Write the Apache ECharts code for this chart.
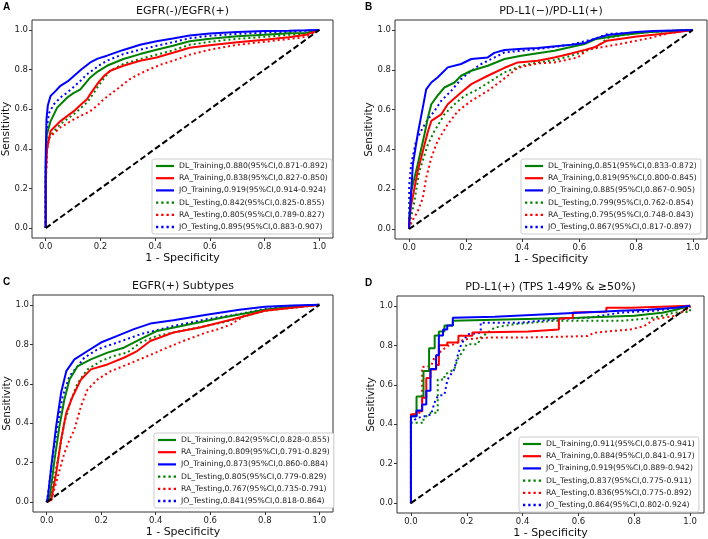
<!DOCTYPE html>
<html>
<head>
<meta charset="utf-8">
<script src="https://cdn.jsdelivr.net/npm/echarts@6/dist/echarts.min.js"></script>
<style>
  html, body { margin: 0; padding: 0; background: #fff; }
  #chart { width: 708px; height: 539px; }
</style>
</head>
<body>
<div id="chart"></div>
<script>
// tick positions shared by all panels
var tickVals = [0, 0.2, 0.4, 0.6, 0.8, 1.0];

// ---- A: EGFR(-)/EGFR(+) ----
var namesA = ['DL_Training,0.880(95%CI,0.871-0.892)', 'RA_Training,0.838(95%CI,0.827-0.850)', 'JO_Training,0.919(95%CI,0.914-0.924)',
  'DL_Testing,0.842(95%CI,0.825-0.855)', 'RA_Testing,0.805(95%CI,0.789-0.827)', 'JO_Testing,0.895(95%CI,0.883-0.907)'];
var aDLTrain = [[0,0],[0,0.3],[0.004,0.47],[0.018,0.54],[0.042,0.608],[0.079,0.659],[0.1,0.68],[0.127,0.70],[0.145,0.73],[0.163,0.76],[0.19,0.79],[0.224,0.819],[0.284,0.853],[0.345,0.878],[0.405,0.9],[0.465,0.92],[0.526,0.943],[0.6,0.955],[0.7,0.968],[0.8,0.976],[0.889,0.983],[0.95,0.985],[1,1]];
var aRATrain = [[0,0],[0,0.25],[0.005,0.40],[0.018,0.49],[0.054,0.54],[0.103,0.59],[0.13,0.625],[0.151,0.65],[0.163,0.676],[0.175,0.70],[0.193,0.735],[0.215,0.77],[0.236,0.794],[0.284,0.819],[0.345,0.844],[0.405,0.861],[0.465,0.885],[0.526,0.91],[0.6,0.922],[0.7,0.938],[0.8,0.95],[0.889,0.963],[0.95,0.975],[1,1]];
var aJOTrain = [[0,0],[0,0.35],[0.003,0.55],[0.008,0.62],[0.018,0.667],[0.035,0.69],[0.054,0.718],[0.08,0.74],[0.103,0.768],[0.13,0.8],[0.163,0.836],[0.19,0.855],[0.224,0.87],[0.284,0.899],[0.345,0.925],[0.405,0.943],[0.465,0.957],[0.526,0.972],[0.6,0.982],[0.7,0.99],[0.8,0.994],[0.889,0.996],[0.95,0.998],[1,1]];
var aDLTest = [[0,0],[0,0.25],[0.005,0.42],[0.018,0.47],[0.054,0.525],[0.103,0.575],[0.151,0.633],[0.175,0.68],[0.193,0.718],[0.215,0.76],[0.236,0.794],[0.284,0.828],[0.345,0.853],[0.405,0.875],[0.465,0.897],[0.526,0.925],[0.6,0.94],[0.7,0.955],[0.8,0.965],[0.889,0.975],[0.95,0.98],[1,1]];
var aRATest = [[0,0],[0,0.2],[0.005,0.39],[0.012,0.456],[0.054,0.508],[0.103,0.549],[0.163,0.59],[0.19,0.62],[0.212,0.65],[0.26,0.70],[0.308,0.752],[0.345,0.78],[0.381,0.802],[0.42,0.825],[0.465,0.844],[0.526,0.875],[0.6,0.9],[0.7,0.925],[0.8,0.94],[0.889,0.954],[0.95,0.965],[1,1]];
var aJOTest = [[0,0],[0,0.3],[0.004,0.5],[0.012,0.58],[0.03,0.625],[0.055,0.66],[0.079,0.684],[0.1,0.71],[0.127,0.743],[0.15,0.775],[0.175,0.80],[0.2,0.825],[0.224,0.845],[0.284,0.878],[0.345,0.9],[0.405,0.92],[0.465,0.938],[0.526,0.958],[0.6,0.97],[0.7,0.98],[0.8,0.986],[0.889,0.99],[1,1]];

// ---- B: PD-L1(−)/PD-L1(+) ----
var namesB = ['DL_Training,0.851(95%CI,0.833-0.872)', 'RA_Training,0.819(95%CI,0.800-0.845)', 'JO_Training,0.885(95%CI,0.867-0.905)',
  'DL_Testing,0.799(95%CI,0.762-0.854)', 'RA_Testing,0.795(95%CI,0.748-0.843)', 'JO_Testing,0.867(95%CI,0.817-0.897)'];
var bDLTrain = [[0,0],[0,0.05],[0.007,0.19],[0.03,0.324],[0.054,0.476],[0.066,0.56],[0.078,0.627],[0.1,0.67],[0.124,0.711],[0.16,0.736],[0.183,0.77],[0.219,0.795],[0.277,0.82],[0.336,0.854],[0.395,0.87],[0.512,0.896],[0.618,0.929],[0.66,0.955],[0.75,0.975],[0.85,0.99],[1,1]];
var bRATrain = [[0,0],[0,0.04],[0.007,0.12],[0.03,0.29],[0.048,0.39],[0.066,0.49],[0.078,0.543],[0.113,0.576],[0.136,0.627],[0.183,0.686],[0.219,0.728],[0.277,0.77],[0.336,0.81],[0.383,0.837],[0.453,0.845],[0.512,0.862],[0.571,0.882],[0.62,0.9],[0.653,0.913],[0.697,0.946],[0.803,0.967],[0.92,0.985],[1,1]];
var bJOTrain = [[0,0],[0,0.02],[0.013,0.324],[0.03,0.476],[0.048,0.61],[0.06,0.702],[0.078,0.736],[0.1,0.761],[0.136,0.812],[0.183,0.829],[0.219,0.854],[0.277,0.862],[0.3,0.885],[0.336,0.899],[0.4,0.905],[0.453,0.909],[0.571,0.926],[0.62,0.935],[0.653,0.955],[0.7,0.975],[0.8,0.99],[0.86,0.995],[1,1]];
var bDLTest = [[0,0],[0.005,0.05],[0.018,0.137],[0.036,0.29],[0.066,0.425],[0.089,0.492],[0.124,0.576],[0.16,0.627],[0.195,0.669],[0.242,0.702],[0.289,0.744],[0.336,0.787],[0.395,0.82],[0.453,0.837],[0.512,0.849],[0.571,0.87],[0.661,0.913],[0.7,0.96],[0.8,0.985],[0.9,0.995],[1,1]];
var bRATest = [[0,0],[0.01,0.04],[0.03,0.088],[0.048,0.155],[0.06,0.257],[0.078,0.358],[0.1,0.442],[0.136,0.526],[0.172,0.593],[0.219,0.644],[0.277,0.694],[0.324,0.744],[0.383,0.81],[0.453,0.832],[0.512,0.837],[0.595,0.862],[0.627,0.9],[0.745,0.93],[0.85,0.96],[0.92,0.985],[1,1]];
var bJOTest = [[0,0],[0,0.22],[0.007,0.324],[0.024,0.442],[0.048,0.509],[0.071,0.56],[0.089,0.593],[0.113,0.644],[0.148,0.694],[0.183,0.753],[0.219,0.795],[0.254,0.829],[0.301,0.862],[0.336,0.887],[0.453,0.904],[0.571,0.926],[0.653,0.955],[0.7,0.98],[0.85,0.99],[1,1]];

// ---- C: EGFR(+) Subtypes ----
var namesC = ['DL_Training,0.842(95%CI,0.828-0.855)', 'RA_Training,0.809(95%CI,0.791-0.829)', 'JO_Training,0.873(95%CI,0.860-0.884)',
  'DL_Testing,0.805(95%CI,0.779-0.829)', 'RA_Testing,0.767(95%CI,0.735-0.791)', 'JO_Testing,0.841(95%CI,0.818-0.864)'];
var cDLTrain = [[0,0],[0.012,0.03],[0.029,0.215],[0.047,0.385],[0.065,0.52],[0.084,0.622],[0.114,0.69],[0.162,0.724],[0.223,0.758],[0.283,0.783],[0.344,0.826],[0.405,0.868],[0.525,0.902],[0.646,0.936],[0.8,0.975],[0.9,0.99],[1,1]];
var cRATrain = [[0,0],[0.017,0.012],[0.035,0.147],[0.053,0.317],[0.072,0.453],[0.096,0.537],[0.126,0.622],[0.162,0.673],[0.223,0.698],[0.283,0.732],[0.332,0.766],[0.38,0.817],[0.465,0.86],[0.562,0.885],[0.683,0.927],[0.8,0.97],[0.9,0.985],[1,1]];
var cJOTrain = [[0,0],[0.005,0.03],[0.017,0.18],[0.035,0.385],[0.053,0.554],[0.072,0.664],[0.102,0.724],[0.15,0.766],[0.199,0.809],[0.259,0.843],[0.32,0.877],[0.38,0.905],[0.465,0.922],[0.586,0.95],[0.707,0.975],[0.8,0.99],[0.9,0.997],[1,1]];
var cDLTest = [[0,0],[0.017,0.05],[0.041,0.215],[0.065,0.402],[0.09,0.52],[0.114,0.605],[0.15,0.673],[0.199,0.715],[0.247,0.741],[0.296,0.758],[0.344,0.809],[0.405,0.843],[0.525,0.877],[0.646,0.911],[0.8,0.97],[0.9,0.985],[1,1]];
var cRATest = [[0,0],[0.017,0.01],[0.041,0.13],[0.065,0.249],[0.084,0.317],[0.102,0.368],[0.126,0.486],[0.15,0.571],[0.187,0.622],[0.235,0.664],[0.296,0.698],[0.356,0.732],[0.428,0.775],[0.501,0.817],[0.586,0.86],[0.627,0.876],[0.675,0.9],[0.724,0.944],[0.797,0.975],[0.9,0.985],[1,1]];
var cJOTest = [[0,0],[0.005,0.04],[0.022,0.23],[0.041,0.4],[0.059,0.537],[0.084,0.639],[0.114,0.69],[0.138,0.732],[0.187,0.775],[0.259,0.809],[0.344,0.851],[0.465,0.893],[0.586,0.927],[0.707,0.953],[0.8,0.98],[0.9,0.99],[1,1]];

// ---- D: PD-L1(+) (TPS 1-49% & ≥50%) ----
var namesD = ['DL_Training,0.911(95%CI,0.875-0.941)', 'RA_Training,0.884(95%CI,0.841-0.917)', 'JO_Training,0.919(95%CI,0.889-0.942)',
  'DL_Testing,0.837(95%CI,0.775-0.911)', 'RA_Testing,0.836(95%CI,0.775-0.892)', 'JO_Testing,0.864(95%CI,0.802-0.924)'];
var dDLTrain = [[0,0],[0,0.44],[0.02,0.44],[0.02,0.54],[0.045,0.54],[0.045,0.67],[0.065,0.67],[0.065,0.785],[0.085,0.785],[0.085,0.85],[0.1,0.85],[0.1,0.87],[0.12,0.87],[0.12,0.9],[0.15,0.9],[0.15,0.925],[0.3,0.93],[0.45,0.935],[0.6,0.94],[0.8,0.95],[0.9,0.965],[0.95,0.98],[1,1]];
var dRATrain = [[0,0],[0,0.45],[0.02,0.45],[0.02,0.466],[0.04,0.466],[0.04,0.534],[0.055,0.534],[0.055,0.634],[0.07,0.634],[0.07,0.678],[0.09,0.678],[0.09,0.7],[0.1,0.7],[0.1,0.8],[0.13,0.8],[0.13,0.814],[0.17,0.814],[0.17,0.848],[0.22,0.848],[0.22,0.865],[0.42,0.87],[0.42,0.88],[0.53,0.88],[0.53,0.935],[0.58,0.94],[0.58,0.966],[0.7,0.97],[0.7,0.99],[0.79,0.99],[0.79,1],[1,1]];
var dJOTrain = [[0,0],[0,0.44],[0.02,0.44],[0.02,0.47],[0.04,0.47],[0.04,0.5],[0.055,0.5],[0.055,0.57],[0.07,0.57],[0.07,0.68],[0.09,0.68],[0.09,0.75],[0.1,0.75],[0.1,0.85],[0.115,0.85],[0.115,0.88],[0.13,0.88],[0.13,0.9],[0.15,0.9],[0.15,0.94],[0.3,0.945],[0.45,0.955],[0.6,0.965],[0.75,0.975],[0.85,0.98],[0.95,0.99],[1,1]];
var dDLTest = [[0,0],[0,0.407],[0.045,0.407],[0.045,0.43],[0.072,0.458],[0.096,0.458],[0.096,0.627],[0.12,0.627],[0.12,0.65],[0.155,0.678],[0.167,0.729],[0.19,0.78],[0.2,0.805],[0.239,0.805],[0.25,0.839],[0.3,0.89],[0.37,0.907],[0.514,0.924],[0.753,0.924],[0.872,0.94],[0.944,0.966],[1,0.97],[1,1]];
var dRATest = [[0,0],[0,0.44],[0.024,0.458],[0.04,0.458],[0.04,0.69],[0.072,0.695],[0.084,0.737],[0.108,0.771],[0.131,0.797],[0.155,0.805],[0.191,0.83],[0.275,0.839],[0.394,0.839],[0.633,0.847],[0.657,0.864],[0.789,0.881],[0.836,0.898],[0.872,0.932],[0.944,0.949],[1,0.99],[1,1]];
var dJOTest = [[0,0],[0,0.41],[0.024,0.432],[0.072,0.449],[0.084,0.508],[0.096,0.542],[0.12,0.55],[0.131,0.627],[0.155,0.678],[0.167,0.746],[0.18,0.805],[0.203,0.856],[0.25,0.864],[0.25,0.915],[0.394,0.915],[0.514,0.932],[0.633,0.94],[0.753,0.966],[0.872,0.975],[1,1]];

var chanceLine = [[0, 0], [1, 1]];

var font = 'DejaVu Sans';
var colors = ['#008000', '#ff0000', '#0000ff', '#008000', '#ff0000', '#0000ff'];
// legend handles: a short bar for solid lines, a row of dots for dotted ones
var solidIcon = 'path://M0,0h18v2.2h-18z';
var dotIcon = 'path://M0,0h2.2v2.2h-2.2zM5,0h2.2v2.2h-2.2zM10,0h2.2v2.2h-2.2zM15,0h2.2v2.2h-2.2z';

// panel layout (pixel boxes)
var panels = [
  { letter: 'A', title: 'EGFR(-)/EGFR(+)', grid: [32, 20, 301, 218], legend: [152, 159], names: namesA,
    curves: [aDLTrain, aRATrain, aJOTrain, aDLTest, aRATest, aJOTest] },
  { letter: 'B', title: 'PD-L1(\u2212)/PD-L1(+)', grid: [395, 20, 312, 219], legend: [521, 159], names: namesB,
    curves: [bDLTrain, bRATrain, bJOTrain, bDLTest, bRATest, bJOTest] },
  { letter: 'C', title: 'EGFR(+) Subtypes', grid: [33, 295, 300, 217], legend: [154, 433], names: namesC,
    curves: [cDLTrain, cRATrain, cJOTrain, cDLTest, cRATest, cJOTest] },
  { letter: 'D', title: 'PD-L1(+) (TPS 1-49% & \u226550%)', grid: [397, 296, 307, 217], legend: [519, 437], names: namesD,
    curves: [dDLTrain, dRATrain, dJOTrain, dDLTest, dRATest, dJOTest] }
];

var grids = [], xAxes = [], yAxes = [], legends = [], series = [], graphics = [];

panels.forEach(function (p, i) {
  var g = p.grid;
  grids.push({ left: g[0], top: g[1], width: g[2], height: g[3], show: true,
    borderColor: '#333', borderWidth: 1, backgroundColor: '#fff' });
  var axisCommon = {
    gridIndex: i, type: 'value', min: -0.05, max: 1.05,
    splitLine: { show: false },
    axisLine: { show: false, onZero: false },
    axisTick: { show: true, length: 3, customValues: tickVals, lineStyle: { color: '#333' } },
    axisLabel: { customValues: tickVals, margin: 4, fontSize: 8.5, color: '#222', fontFamily: font,
      formatter: function (v) { return v.toFixed(1); } }
  };
  xAxes.push(Object.assign({ position: 'bottom' }, axisCommon));
  yAxes.push(Object.assign({ position: 'left' }, axisCommon));

  legends.push({
    data: p.names.map(function (n, k) { return { name: n, icon: k < 3 ? solidIcon : dotIcon }; }),
    orient: 'vertical', left: p.legend[0], top: p.legend[1],
    backgroundColor: '#fff', borderColor: '#ccc', borderWidth: 1, borderRadius: 2,
    padding: [3, 4], itemWidth: 18, itemHeight: 8, itemGap: 4.2,
    textStyle: { fontSize: 7.7, fontFamily: font, color: '#222', lineHeight: 8 },
    selectedMode: false
  });

  p.curves.forEach(function (d, k) {
    series.push({
      name: p.names[k], type: 'line', data: d, xAxisIndex: i, yAxisIndex: i,
      symbol: 'none', color: colors[k], z: 2 + (k < 3 ? 1 : 0),
      itemStyle: { color: colors[k] },
      lineStyle: { color: colors[k], width: 2, type: k < 3 ? 'solid' : [2, 3] }
    });
  });
  series.push({
    name: 'chance' + i, type: 'line', data: chanceLine, xAxisIndex: i, yAxisIndex: i,
    symbol: 'none', z: 4, lineStyle: { color: '#000', width: 2, type: [6, 3] }
  });

  var cx = g[0] + g[2] / 2;
  graphics.push({ type: 'text', x: cx, y: g[1] - 9, style: { text: p.title, font: '11px ' + font,
    fill: '#111', textAlign: 'center', textVerticalAlign: 'middle' } });
  graphics.push({ type: 'text', x: (i % 2 ? 365 : 3), y: g[1] - 13, style: { text: p.letter,
    font: 'bold 10px Liberation Sans', fill: '#000', textAlign: 'left', textVerticalAlign: 'middle' } });
  graphics.push({ type: 'text', x: cx, y: g[1] + g[3] + 20, style: { text: '1 - Specificity',
    font: '11px ' + font, fill: '#111', textAlign: 'center', textVerticalAlign: 'middle' } });
  graphics.push({ type: 'text', x: g[0] - 26, y: g[1] + g[3] / 2, rotation: Math.PI / 2,
    style: { text: 'Sensitivity', font: '10.5px ' + font, fill: '#111', textAlign: 'center', textVerticalAlign: 'middle' } });
});

var chart = echarts.init(document.getElementById('chart'));
var option = {
  animation: false,
  backgroundColor: '#fff',
  grid: grids,
  xAxis: xAxes,
  yAxis: yAxes,
  legend: legends,
  series: series,
  graphic: graphics
};
chart.setOption(option);
</script>
</body>
</html>
